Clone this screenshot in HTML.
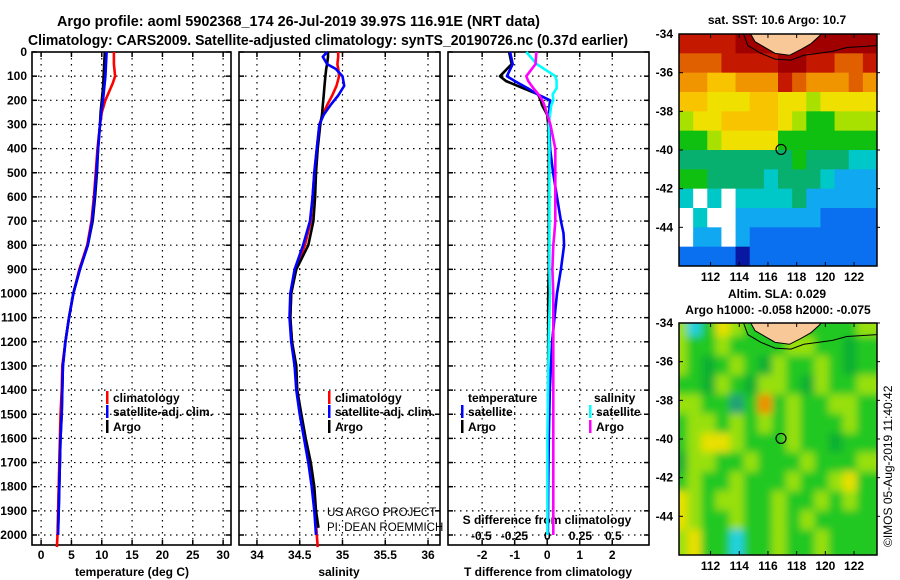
<!DOCTYPE html>
<html><head><meta charset="utf-8"><style>
body{margin:0;background:#fff}
svg{display:block;font-family:"Liberation Sans",Arial,sans-serif}
.b{font-weight:bold}
</style></head><body>
<svg id="s" width="900" height="580" viewBox="0 0 900 580">
<defs>
<clipPath id="c1"><rect x="679" y="34" width="198" height="233"/></clipPath>
<clipPath id="c2"><rect x="679" y="323" width="198" height="232"/></clipPath>
<filter id="bl" x="0" y="0" width="1" height="1"><feGaussianBlur stdDeviation="4"/></filter>
</defs>
<g id="titles">
<text x="57" y="26" class="b" font-size="15" textLength="483" lengthAdjust="spacingAndGlyphs">Argo profile: aoml 5902368_174 26-Jul-2019 39.97S 116.91E (NRT data)</text>
<text x="28" y="45" class="b" font-size="15" textLength="600" lengthAdjust="spacingAndGlyphs">Climatology: CARS2009. Satellite-adjusted climatology: synTS_20190726.nc (0.37d earlier)</text>
</g>
<g id="plots"></g>
<g id="maps"></g>
<text transform="translate(892,547) rotate(-90)" font-size="12">©IMOS 05-Aug-2019 11:40:42</text>
</svg>
<script>
// ---- data ----
const tDepth=[0,50,100,150,200,250,300,400,500,600,700,800,900,1000,1100,1200,1300,1400,1500,1600,1700,1800,1900,1970];
const tArgo=[10.5,10.4,10.3,10.2,10.0,9.8,9.7,9.4,9.2,8.9,8.5,7.7,6.4,5.3,4.6,4.0,3.6,3.5,3.4,3.2,3.1,3.0,2.9,2.8];
const tClimDepth=[0,50,100,130,200,250,300,400,500,600,700,800,900,1000,1100,1200,1300,1400,1500,1600,1700,1800,1900,2000,2050];
const tClim=[12.0,12.0,12.2,11.8,10.6,10.0,9.7,9.3,9.0,8.7,8.3,7.6,6.3,5.3,4.6,4.0,3.5,3.4,3.2,3.1,3.0,2.9,2.8,2.7,2.6];
const tSatDepth=[0,50,100,150,200,250,300,400,500,600,700,800,900,1000,1100,1200,1300,1400,1500,1600,1700,1800,1900,2000];
const tSat=[10.8,10.7,10.6,10.4,10.2,9.9,9.7,9.4,9.1,8.8,8.4,7.7,6.4,5.3,4.6,4.0,3.6,3.5,3.4,3.2,3.1,3.0,2.9,2.8];
const sDepth=[0,20,50,70,100,140,180,220,260,300,400,500,600,700,800,900,1000,1100,1200,1300,1400,1500,1600,1700,1800,1900,1970];
const sArgo=[34.83,34.83,34.82,34.81,34.80,34.79,34.78,34.77,34.76,34.74,34.71,34.69,34.68,34.66,34.60,34.46,34.40,34.39,34.41,34.46,34.47,34.52,34.57,34.63,34.67,34.69,34.72];
const sClimDepth=[0,20,50,70,100,140,180,220,260,300,400,500,600,700,800,900,1000,1100,1200,1300,1400,1500,1600,1700,1800,1900,2000,2050];
const sClim=[34.95,34.95,34.94,34.95,34.96,34.93,34.88,34.82,34.77,34.73,34.70,34.67,34.65,34.63,34.56,34.45,34.40,34.39,34.41,34.45,34.47,34.51,34.56,34.61,34.65,34.68,34.70,34.71];
const sSatDepth=[0,20,50,70,100,140,180,220,260,300,400,500,600,700,800,900,1000,1100,1200,1300,1400,1500,1600,1700,1800,1900,2000];
const sSat=[34.82,34.77,34.82,34.92,35.0,35.02,34.95,34.86,34.78,34.73,34.70,34.67,34.65,34.62,34.54,34.44,34.39,34.38,34.40,34.44,34.46,34.50,34.55,34.60,34.64,34.67,34.69];
const dDepth=[0,50,100,120,150,175,200,220,260,300,400,500,600,700,750,800,900,1000,1200,1400,1600,1800,2000];
const dTArgo=[-1.17,-1.09,-1.45,-1.27,-0.74,-0.28,-0.2,-0.16,0,0.03,0.05,0.05,0.05,0.05,0.05,0.05,0.05,0.03,0.03,0.03,0.02,0.02,0.02];
const dTSat=[-1.14,-1.06,-1.24,-1.0,-0.6,-0.3,0.09,0.07,0.06,0.06,0.09,0.18,0.3,0.42,0.5,0.52,0.42,0.3,0.15,0.08,0.05,0.03,0.02];
const dSSat=[-0.16,-0.08,0.06,0.07,0.07,0.04,0.045,0.03,0.02,0.01,0.015,0.015,0.015,0.015,0.015,0.015,0.015,0.02,0.01,0.005,0,0,0];
const dSArgo=[-0.083,-0.09,-0.16,-0.145,-0.106,-0.068,-0.038,-0.023,0,0.023,0.06,0.06,0.06,0.06,0.053,0.045,0.038,0.045,0.045,0.045,0.045,0.045,0.045];
const depthTicks=[0,100,200,300,400,500,600,700,800,900,1000,1100,1200,1300,1400,1500,1600,1700,1800,1900,2000];
const tTicks=[0,5,10,15,20,25,30];
const sTicks=[34,34.5,35,35.5,36];
const sTickLabels=["34","34.5","35","35.5","36"];
const dTTicks=[-2,-1,0,1,2];
const dSTicks=[-0.5,-0.25,0,0.25,0.5];
const dSTickLabels=["-0.5","-0.25","0","0.25","0.5"];
// SST map (deg C), rows lat -34.5..-45.5, cols lon ~110.3..123.1; null = no data
const sstRows=[
[16.5,16.5,16.5,16.5,17,17,17,17,17,17,17,17,17,17],
[15,15,15.5,16,16,16,16.5,17,17,16.5,16,15.5,15.5,16],
[14,14,13.5,13.5,14,14,14.5,16,15,14,14.5,14,15,14],
[13,13,12.5,12.5,12.5,13,13,12.5,11.8,11.5,12,12.5,12.5,12],
[11.5,12.5,12.5,13,13.5,13,13.5,12,11.2,11,11,11.2,11.5,11.5],
[11,11,11.5,12,12,12,12.5,11,11,11,11,11,11,11],
[10.6,10.6,10.5,10.6,10.6,10.6,10.6,10.6,10.8,10.6,10.5,10.5,10.4,10.3],
[10.8,10.8,10.6,10.6,10.5,10.5,10.4,10.5,10.6,10.5,10.2,10,10,10],
[10.3,null,10.3,null,10.2,10.3,10.3,10.4,10.5,10,9.8,9.8,9.8,9.8],
[null,10.2,null,null,10,10,10,9.8,9.8,9.6,9.5,9.5,9.5,9.5],
[null,10,10,null,9.6,9.5,9.5,9.4,9.4,9.4,9.4,9.4,9.4,9.4],
[9.2,9.2,9.2,9,8.5,9.2,9.2,9.3,9.3,9.3,9.3,9.3,9.3,9.3]];
// SLA map class codes
const slaRows=[
[2,6,1,3,2,1,1,1,1,1,1,1,1,2],
[2,1,1,2,1,1,1,1,2,2,1,1,0,1],
[2,1,0,1,2,1,0,2,1,1,2,1,0,1],
[1,1,0,2,1,0,2,2,1,0,2,1,1,2],
[2,2,1,1,5,1,4,1,2,1,1,2,2,1],
[1,2,2,1,2,1,2,1,2,1,1,1,2,1],
[1,2,3,3,2,1,1,1,2,1,1,0,1,1],
[0,2,2,1,1,2,1,1,1,2,1,1,1,2],
[1,2,1,1,2,1,1,1,2,1,1,2,3,1],
[3,2,1,2,2,1,1,2,1,1,2,1,2,1],
[3,2,1,1,2,1,1,2,1,2,1,1,1,1],
[2,3,1,1,6,1,1,2,1,1,2,1,1,1]];
const mapLonTicks=[112,114,116,118,120,122];
const mapLatTicks=[-34,-36,-38,-40,-42,-44];
const argoLon=116.91, argoLat=-39.97;

const NS="http://www.w3.org/2000/svg";
function mk(tag,at,parent){const e=document.createElementNS(NS,tag);for(const k in at)e.setAttribute(k,at[k]);parent.appendChild(e);return e;}
const plots=document.getElementById('plots');
const Y=d=>52+d*0.2415;
const panels=[
 {x0:32,x1:231,v0:-1.5,v1:31.3,name:'temperature-panel'},
 {x0:239,x1:440,v0:33.79,v1:36.14,name:'salinity-panel'},
 {x0:448,x1:649,v0:-3.05,v1:3.13,name:'difference-panel'}];
function sx(p,v){return p.x0+(v-p.v0)/(p.v1-p.v0)*(p.x1-p.x0);}
const bottom=545;
panels.forEach((p,i)=>{
 const g=mk('g',{},plots);
 
 
 const vt=i==0?tTicks:i==1?sTicks:dTTicks;
 vt.forEach(v=>{const x=sx(p,v);
  const l=mk('line',{x1:x,x2:x,y1:52,y2:bottom,stroke:'#000','stroke-width':1.2,'stroke-dasharray':'1.5 4.5'},g);
  
  mk('line',{x1:x,x2:x,y1:bottom,y2:bottom-5,stroke:'#000','stroke-width':1.5},g);
  mk('line',{x1:x,x2:x,y1:52,y2:57,stroke:'#000','stroke-width':1.5},g);
 });
 depthTicks.forEach(d=>{const y=Y(d);
  if(d>0){const l=mk('line',{x1:p.x0,x2:p.x1,y1:y,y2:y,stroke:'#000','stroke-width':1.2,'stroke-dasharray':'1.5 4.5'},g);
  }
  mk('line',{x1:p.x0,x2:p.x0+5,y1:y,y2:y,stroke:'#000','stroke-width':1.5},g);
  mk('line',{x1:p.x1-5,x2:p.x1,y1:y,y2:y,stroke:'#000','stroke-width':1.5},g);
 });
 const r=mk('rect',{x:p.x0,y:52,width:p.x1-p.x0,height:bottom-52,fill:'none',stroke:'#000','stroke-width':1.6},g);
 
});
// y labels
depthTicks.forEach(d=>{const t=mk('text',{x:27,y:Y(d)+4,'text-anchor':'end','font-size':12,'class':'b'},plots);t.textContent=d;
 });
// x labels
function xl(p,vals,labs,y){vals.forEach((v,k)=>{const t=mk('text',{x:sx(p,v),y:y,'text-anchor':'middle','font-size':12,'class':'b'},plots);t.textContent=labs?labs[k]:v;
 });}
xl(panels[0],tTicks,null,559);xl(panels[1],sTicks,sTickLabels,559);xl(panels[2],dTTicks,null,559);
const ps={x0:448,x1:649,v0:-0.753,v1:0.77};
xl(ps,dSTicks,dSTickLabels,540);
[['temperature (deg C)',132],['salinity',339],['T difference from climatology',548]].forEach(a=>{const t=mk('text',{x:a[1],y:576,'text-anchor':'middle','font-size':12,'class':'b'},plots);t.textContent=a[0];
 });
{const t=mk('text',{x:547,y:524,'text-anchor':'middle','font-size':12,'class':'b'},plots);t.textContent='S difference from climatology';
 }
// series
function line(p,vals,deps,col,name){const pts=vals.map((v,k)=>sx(p,v).toFixed(1)+','+Y(deps[k]).toFixed(1)).join(' ');
 const e=mk('polyline',{points:pts,fill:'none',stroke:col,'stroke-width':2.6,'stroke-linejoin':'round'},plots);
 }
line(panels[0],tClim,tClimDepth,'#f00','temp-climatology-line');
line(panels[0],tArgo,tDepth,'#000','temp-argo-line');
line(panels[0],tSat,tSatDepth,'#00f','temp-satellite-line');
line(panels[1],sClim,sClimDepth,'#f00','sal-climatology-line');
line(panels[1],sArgo,sDepth,'#000','sal-argo-line');
line(panels[1],sSat,sSatDepth,'#00f','sal-satellite-line');
line(panels[2],dTArgo,dDepth,'#000','tdiff-argo-line');
line(panels[2],dTSat,dDepth,'#00f','tdiff-satellite-line');
line(ps,dSSat,dDepth,'#0ff','sdiff-satellite-line');
line(ps,dSArgo,dDepth,'#f0f','sdiff-argo-line');
// legends
function leg(x,y,col,txt){const g=mk('g',{},plots);
 if(col)mk('rect',{x:x,y:y-11,width:2.5,height:13,fill:col},g);
 const t=mk('text',{x:x+(col?7:0),y:y,'font-size':12,'class':'b'},g);t.textContent=txt;}
leg(106,402,'#f00','climatology');leg(106,416,'#00f','satellite-adj. clim.');leg(106,431,'#000','Argo');
leg(328,402,'#f00','climatology');leg(328,416,'#00f','satellite-adj. clim.');leg(328,431,'#000','Argo');
leg(468,402,null,'temperature');leg(594,402,null,'salinity');
leg(461,416,'#00f','satellite');leg(461,431,'#000','Argo');
leg(589,416,'#0ff','satellite');leg(589,431,'#f0f','Argo');
{let t=mk('text',{x:327,y:516,'font-size':11.5},plots);t.textContent='US ARGO PROJECT';
 t=mk('text',{x:327,y:531,'font-size':11.5},plots);t.textContent='PI: DEAN ROEMMICH';}

// ---- maps ----
const maps=document.getElementById('maps');
function sstCol(v){if(v===null)return '#fff';
 const th=[[9,'#0818a0'],[9.6,'#0a70f0'],[10.1,'#10a8f0'],[10.45,'#00c8c8'],[10.7,'#08b070'],[11.2,'#10c010'],[11.8,'#a8e000'],[12.8,'#f0e000'],[13.8,'#f8c400'],[14.8,'#f09400'],[15.8,'#e06000'],[16.8,'#c41800']];
 for(const a of th)if(v<a[0])return a[1];return '#a00000';}
const slaCols=['#10b030','#20c820','#98e010','#e8e000','#f09000','#20a078','#20d0e0'];
function drawMap(top,rows,colFn,clip,blur,name,t1,t2){
 const bot=top+232, L=679,R=877;
 const lx=lon=>L+(lon-109.8)/(123.6-109.8)*(R-L);
 const ly=lat=>top+(-34-lat)/12*(bot-top);
 const g=mk('g',{},maps);
 const f=mk('g',{'clip-path':'url(#'+clip+')'},g);
 const inner=mk('g',blur?{filter:'url(#bl)'}:{},f);
 rows.forEach((row,r)=>row.forEach((v,c)=>{
  const x0=lx(109.8+c*13.8/14),x1=lx(109.8+(c+1)*13.8/14),y0=ly(-34-r),y1=ly(-35-r);
  const e=mk('rect',{x:x0-(blur?6:0),y:y0-(blur?6:0),width:x1-x0+0.5+(blur?12:0),height:y1-y0+0.5+(blur?12:0),fill:colFn(v)},inner);
  
 }));
 const land=[[114.8,-34],[115.1,-34.4],[115.8,-34.7],[116.5,-35.0],[117.5,-35.1],[118.3,-34.8],[119.0,-34.5],[119.6,-34.1],[119.8,-33.9],[114.6,-33.9]];
 const lp=mk('polygon',{points:land.map(a=>lx(a[0])+','+ly(a[1])).join(' '),fill:'#f8c898',stroke:'#000','stroke-width':1},f);
 
 const coast=[[114.3,-34],[114.6,-34.6],[115.5,-35.0],[116.5,-35.3],[117.6,-35.35],[118.5,-35.1],[119.5,-35.0],[120.5,-34.9],[121.5,-34.7],[123.6,-34.6]];
 mk('polyline',{points:coast.map(a=>lx(a[0])+','+ly(a[1])).join(' '),fill:'none',stroke:'#000','stroke-width':1},f);
 const m=mk('circle',{cx:lx(argoLon),cy:ly(argoLat),r:5,fill:'none',stroke:'#000','stroke-width':1.2},g);
 
 mk('rect',{x:L,y:top,width:R-L,height:bot-top,fill:'none',stroke:'#000','stroke-width':1.5},g);
 mapLonTicks.forEach(lon=>{const x=lx(lon);mk('line',{x1:x,x2:x,y1:bot,y2:bot-4,stroke:'#000'},g);mk('line',{x1:x,x2:x,y1:top,y2:top+4,stroke:'#000'},g);
  const t=mk('text',{x:x,y:bot+15,'text-anchor':'middle','font-size':12,'class':'b'},g);t.textContent=lon;
  });
 mapLatTicks.forEach(lat=>{const y=ly(lat);mk('line',{x1:L,x2:L+4,y1:y,y2:y,stroke:'#000'},g);mk('line',{x1:R,x2:R+3,y1:y,y2:y,stroke:'#000'},g);
  const t=mk('text',{x:673,y:y+4,'text-anchor':'end','font-size':12,'class':'b'},g);t.textContent=lat;
  });
 let t=mk('text',{x:777,y:t2?top-25:top-10,'text-anchor':'middle','font-size':12,'class':'b'},g);t.textContent=t1;
 
 if(t2){t=mk('text',{x:778,y:top-9,'text-anchor':'middle','font-size':12,'class':'b'},g);t.textContent=t2;
 }
}
drawMap(34,sstRows,sstCol,'c1',false,'sst-map','sat. SST: 10.6 Argo: 10.7');
drawMap(323,slaRows,v=>slaCols[v],'c2',true,'sla-map','Altim. SLA: 0.029','Argo h1000: -0.058 h2000: -0.075');
</script>
</body></html>
